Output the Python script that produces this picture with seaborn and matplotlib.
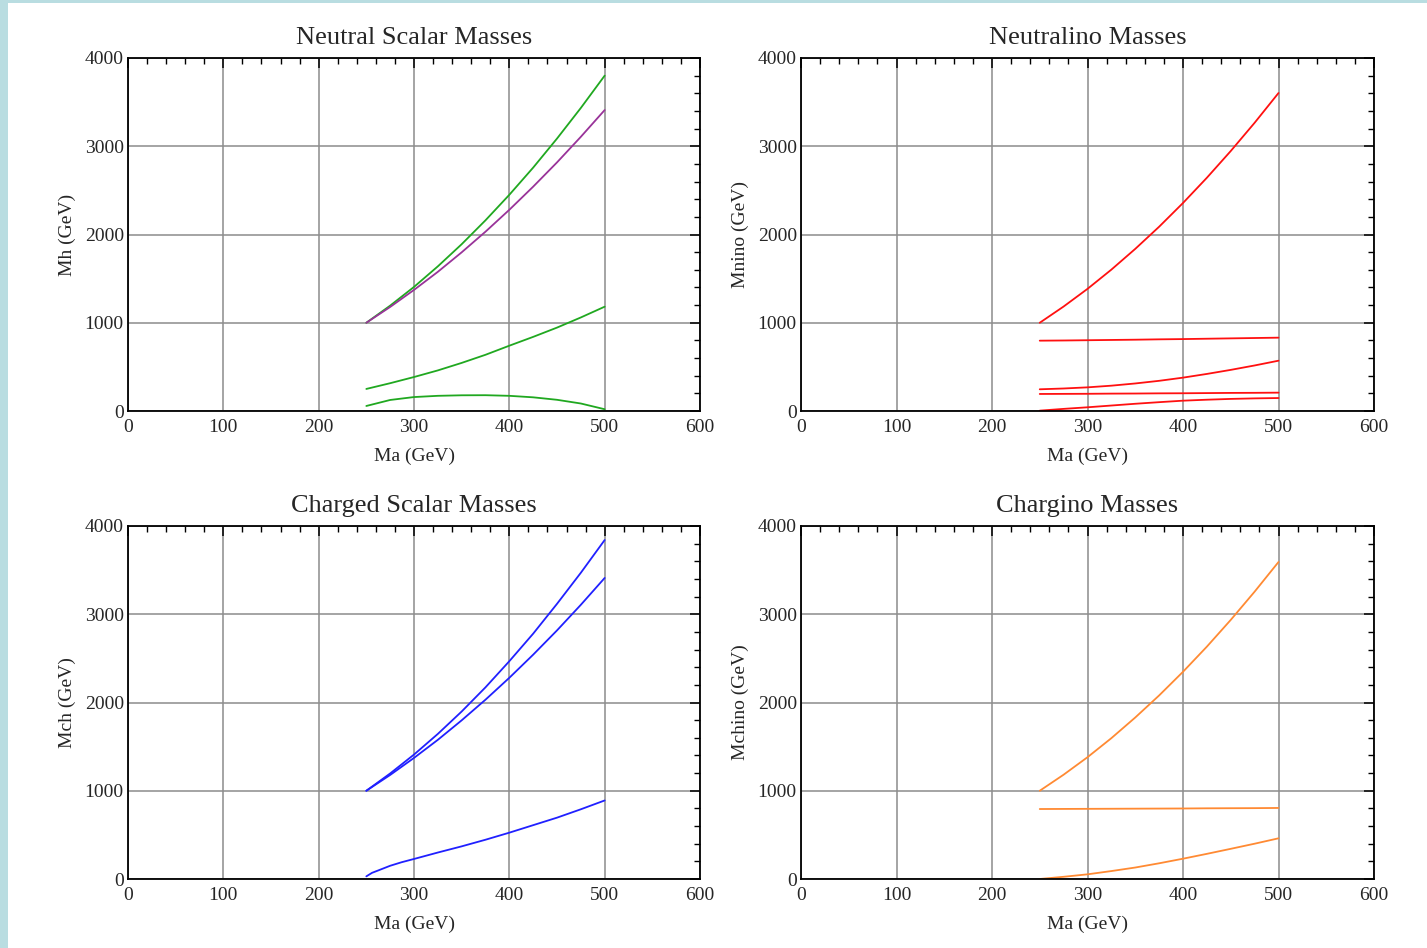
import numpy as np
import pandas as pd
import matplotlib
matplotlib.use("Agg")
import matplotlib.pyplot as plt
from matplotlib.patches import Rectangle
from matplotlib.ticker import MultipleLocator
import seaborn as sns

# Ma grid (GeV) shared by most curves
ma = [250, 275, 300, 325, 350, 375, 400, 425, 450, 475, 500]

# Neutral scalar masses
mh_1 = [1000, 1194, 1406, 1639, 1890, 2161, 2450, 2758, 3087, 3434, 3800]
mh_2 = [1000, 1179, 1372, 1577, 1798, 2032, 2280, 2542, 2817, 3107, 3410]
mh_3 = [250, 315, 385, 460, 545, 637, 740, 840, 945, 1060, 1182]
mh_4 = [57, 125, 158, 172, 178, 179, 172, 155, 127, 85, 20]

# Neutralino masses
mnino_1 = [1000, 1184, 1384, 1602, 1837, 2088, 2357, 2643, 2946, 3266, 3603]
mnino_2 = [797, 799, 802, 805, 808, 812, 815, 819, 823, 827, 831]
mnino_3 = [246, 255, 268, 287, 312, 342, 378, 420, 466, 516, 570]
mnino_4 = [193, 194, 195, 197, 198, 200, 201, 203, 205, 206, 208]
mnino_5 = [4, 24, 42, 62, 82, 100, 117, 128, 137, 143, 147]

# Charged scalar masses
mch_1 = [1000, 1196, 1410, 1644, 1898, 2172, 2468, 2780, 3118, 3470, 3841]
mch_2 = [1000, 1179, 1372, 1577, 1798, 2032, 2280, 2542, 2817, 3107, 3411]
# lowest charged scalar rises steeply just above threshold
ma_ch3 = [250, 256, 262, 275, 287, 300, 325, 350, 375, 400, 425, 450, 475, 500]
mch_3 = [30, 70, 95, 150, 190, 227, 300, 370, 445, 525, 610, 695, 790, 890]

# Chargino masses
mchino_1 = [1000, 1182, 1380, 1596, 1830, 2080, 2348, 2633, 2936, 3256, 3592]
mchino_2 = [793, 794, 795, 796, 797, 798, 799, 801, 802, 803, 805]
mchino_3 = [0, 25, 53, 90, 130, 178, 230, 285, 342, 400, 461]

GREEN = "#20a820"
PURPLE = "#993399"
RED = "#ff1010"
BLUE = "#2020ff"
ORANGE = "#ff8a33"

panels = [
    ("Neutral Scalar Masses", "Mh (GeV)",
     [(ma, mh_1, GREEN), (ma, mh_2, PURPLE), (ma, mh_3, GREEN), (ma, mh_4, GREEN)]),
    ("Neutralino Masses", "Mnino (GeV)",
     [(ma, mnino_1, RED), (ma, mnino_2, RED), (ma, mnino_3, RED), (ma, mnino_4, RED), (ma, mnino_5, RED)]),
    ("Charged Scalar Masses", "Mch (GeV)",
     [(ma, mch_1, BLUE), (ma, mch_2, BLUE), (ma_ch3, mch_3, BLUE)]),
    ("Chargino Masses", "Mchino (GeV)",
     [(ma, mchino_1, ORANGE), (ma, mchino_2, ORANGE), (ma, mchino_3, ORANGE)]),
]

sns.set_style("white")
plt.rcParams["font.family"] = ["Liberation Serif", "DejaVu Serif"]

W, H = 1427, 948
fig = plt.figure(figsize=(W / 100, H / 100), dpi=100)
fig.patch.set_facecolor("#b9dde1")
fig.patches.append(Rectangle((8 / W, 0), 1, 1 - 3 / H, transform=fig.transFigure,
                             facecolor="white", edgecolor="none", zorder=-1))

# axes boxes in pixels: left, top, right, bottom
boxes = [(128, 58, 700, 411), (801, 58, 1374, 411),
         (128, 526, 700, 879), (801, 526, 1374, 879)]

for (title, ylab, curves), (l, t, r, b) in zip(panels, boxes):
    ax = fig.add_axes([l / W, 1 - b / H, (r - l) / W, (b - t) / H])
    for xs, vals, col in curves:
        df = pd.DataFrame({"Ma": xs, "M": vals})
        sns.lineplot(data=df, x="Ma", y="M", color=col, linewidth=1.3, ax=ax)
    ax.set_xlim(0, 600)
    ax.set_ylim(0, 4000)
    ax.xaxis.set_major_locator(MultipleLocator(100))
    ax.xaxis.set_minor_locator(MultipleLocator(20))
    ax.yaxis.set_major_locator(MultipleLocator(1000))
    ax.yaxis.set_minor_locator(MultipleLocator(200))
    ax.grid(True, which="major", color="#8c8c8c", linewidth=1.1)
    ax.tick_params(which="both", direction="in", top=True, right=True,
                   color="black", labelsize=14)
    ax.tick_params(axis="x", which="major", pad=6)
    ax.tick_params(axis="y", which="major", pad=3)
    ax.tick_params(which="major", length=7, width=1.1)
    ax.tick_params(which="minor", length=4, width=1.0)
    for s in ax.spines.values():
        s.set_color("black")
        s.set_linewidth(1.3)
    ax.set_title(title, fontsize=19, pad=10)
    ax.set_xlabel("Ma (GeV)", fontsize=14, labelpad=8)
    ax.set_ylabel(ylab, fontsize=14, labelpad=6)

fig.savefig("out.png", dpi=100)
